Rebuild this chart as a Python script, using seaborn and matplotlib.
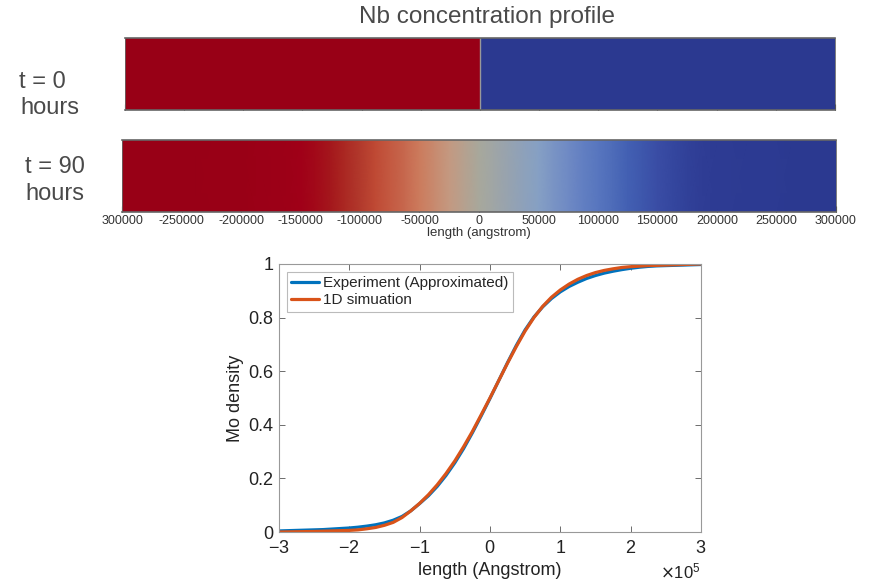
import numpy as np
import matplotlib
matplotlib.use("Agg")
from matplotlib import pyplot as plt
from matplotlib.colors import LinearSegmentedColormap
from matplotlib.ticker import ScalarFormatter
import pandas as pd
import seaborn as sns

# Position along the sample (angstrom), one reading every 12500.
length = [-300000, -287500, -275000, -262500, -250000, -237500, -225000, -212500,
          -200000, -187500, -175000, -162500, -150000, -137500, -125000, -112500,
          -100000, -87500, -75000, -62500, -50000, -37500, -25000, -12500,
          0, 12500, 25000, 37500, 50000, 62500, 75000, 87500,
          100000, 112500, 125000, 137500, 150000, 162500, 175000, 187500,
          200000, 212500, 225000, 237500, 250000, 262500, 275000, 287500, 300000]

# Mo density.
mo_experiment = [0.004, 0.005, 0.006, 0.007, 0.008, 0.009, 0.011, 0.013,
                 0.015, 0.018, 0.022, 0.027, 0.034, 0.044, 0.058, 0.079,
                 0.106, 0.135, 0.170, 0.211, 0.258, 0.311, 0.370, 0.433,
                 0.498, 0.565, 0.632, 0.696, 0.754, 0.802, 0.840, 0.871,
                 0.896, 0.916, 0.932, 0.946, 0.957, 0.966, 0.973, 0.979,
                 0.984, 0.988, 0.991, 0.993, 0.994, 0.995, 0.996, 0.997, 0.998]
mo_simulation = [0.000, 0.0005, 0.001, 0.0015, 0.002, 0.003, 0.004, 0.005,
                 0.006, 0.008, 0.012, 0.017, 0.025, 0.036, 0.054, 0.079,
                 0.107, 0.139, 0.176, 0.218, 0.265, 0.318, 0.375, 0.437,
                 0.500, 0.565, 0.630, 0.692, 0.750, 0.800, 0.842, 0.876,
                 0.903, 0.925, 0.943, 0.957, 0.968, 0.976, 0.982, 0.987,
                 0.990, 0.992, 0.994, 0.995, 0.996, 0.997, 0.998, 0.999, 1.000]

# Nb strip at t = 0: a step at the interface.
t0_edges = [-300000, 0, 300000]
nb_t0 = [1.0, 0.0]

strip_ticks = [-300000, -250000, -200000, -150000, -100000, -50000, 0,
               50000, 100000, 150000, 200000, 250000, 300000]
strip_ticklabels = ["300000", "-250000", "-200000", "-150000", "-100000", "-50000", "0",
                    "50000", "100000", "150000", "200000", "250000", "300000"]

# Colour scale of the Nb strips (value -> colour).
cmap_nodes = [0.0, 0.01, 0.032, 0.057, 0.097, 0.158, 0.25, 0.37, 0.5,
              0.625, 0.735, 0.86, 0.893, 0.946, 0.975, 1.0]
cmap_colors = ["#2b3990", "#2e3c94", "#3a4ea6", "#4462b4", "#5a78c0", "#6f8ac4", "#86a0c4",
               "#97a3b0", "#a8a89c", "#c49a82", "#cc7c5e", "#c04a35", "#b23a2c",
               "#a51a1c", "#a00018", "#980016"]
nb_cmap = LinearSegmentedColormap.from_list("nb", list(zip(cmap_nodes, cmap_colors)))

sns.set_theme(style="white")
plt.rcParams["font.family"] = ["Liberation Sans", "DejaVu Sans"]
narrow = ["Liberation Sans Narrow", "Liberation Sans", "DejaVu Sans"]
label_color = "#4a4a4a"

fig = plt.figure(figsize=(8.69, 5.82), dpi=100)
fig.patch.set_facecolor("white")


def style_strip(ax, labels):
    ax.set_xlim(-300000, 300000)
    ax.set_ylim(0, 1)
    ax.set_yticks([])
    ax.set_xticks(strip_ticks)
    ax.tick_params(axis="x", direction="in", length=4, width=0.8, color="black",
                   bottom=True, pad=2, labelsize=9, labelcolor="#333333")
    if labels:
        ax.set_xticklabels(strip_ticklabels, family=narrow)
    else:
        ax.set_xticklabels([])
    for side, sp in ax.spines.items():
        sp.set_color("#666666")
        sp.set_linewidth(1.2 if side in ("top", "bottom") else 0.6)


# t = 0 strip
ax0 = fig.add_axes([0.1438, 0.811, 0.817, 0.1237])
ax0.pcolormesh(t0_edges, [0, 1], [nb_t0], cmap=nb_cmap, vmin=0, vmax=1, shading="flat")
ax0.axvline(0, color="#999999", lw=1)
style_strip(ax0, labels=False)
fig.text(0.560, 0.971, "Nb concentration profile", ha="center", va="center",
         fontsize=17.5, color=label_color, family=narrow)
fig.text(0.049, 0.859, "t = 0", ha="center", va="center", fontsize=17, color=label_color, family=narrow)
fig.text(0.057, 0.814, "hours", ha="center", va="center", fontsize=17, color=label_color, family=narrow)

# t = 90 strip
nb_t90 = 1 - np.array(mo_simulation)
ax1 = fig.add_axes([0.1404, 0.6357, 0.8216, 0.1237])
ax1.pcolormesh(length, [0, 1], np.vstack([nb_t90, nb_t90]), cmap=nb_cmap,
               vmin=0, vmax=1, shading="gouraud")
style_strip(ax1, labels=True)
ax1.set_xlabel("length (angstrom)", fontsize=9.5, color="#333333", labelpad=0, family=narrow)
fig.text(0.063, 0.713, "t = 90", ha="center", va="center", fontsize=17, color=label_color, family=narrow)
fig.text(0.063, 0.667, "hours", ha="center", va="center", fontsize=17, color=label_color, family=narrow)

# Mo density profiles
df = pd.DataFrame({
    "length": length * 2,
    "Mo density": mo_experiment + mo_simulation,
    "series": ["Experiment (Approximated)"] * len(length) + ["1D simuation"] * len(length),
})
ax2 = fig.add_axes([0.321, 0.0859, 0.4856, 0.4605])
sns.lineplot(data=df, x="length", y="Mo density", hue="series",
             palette=["#0072BD", "#D95319"], linewidth=2.3, ax=ax2)
ax2.set_xlim(-300000, 300000)
ax2.set_ylim(0, 1)
ax2.set_xticks([-300000, -200000, -100000, 0, 100000, 200000, 300000])
ax2.set_yticks([0, 0.2, 0.4, 0.6, 0.8, 1.0])
ax2.set_yticklabels(["0", "0.2", "0.4", "0.6", "0.8", "1"])
fmt = ScalarFormatter(useMathText=True)
fmt.set_powerlimits((5, 5))
ax2.xaxis.set_major_formatter(fmt)
ax2.xaxis.get_offset_text().set_fontsize(12)
ax2.tick_params(direction="in", length=4, width=0.6, color="#555555",
                top=True, right=True, bottom=True, left=True, labelsize=13, labelcolor="#222222")
ax2.tick_params(axis="x", pad=6)
ax2.tick_params(axis="y", pad=4)
for sp in ax2.spines.values():
    sp.set_color("#999999")
    sp.set_linewidth(0.8)
ax2.set_xlabel("length (Angstrom)", fontsize=13, color="#222222", labelpad=3)
ax2.set_ylabel("Mo density", fontsize=13, color="#222222", labelpad=3)
leg = ax2.legend(loc="upper left", fontsize=11, frameon=True, fancybox=False,
                 handlelength=1.8, handletextpad=0.3, borderpad=0.3, labelspacing=0.2,
                 borderaxespad=0.5, title=None)
leg.get_frame().set_edgecolor("#aaaaaa")
leg.get_frame().set_linewidth(0.8)

fig.savefig("out.png", dpi=100, facecolor="white")
